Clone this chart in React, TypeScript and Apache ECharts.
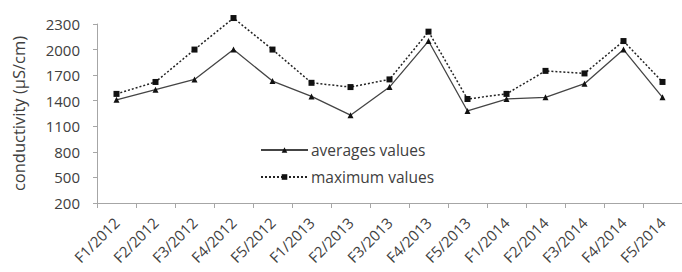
import React, { useEffect, useRef } from "react";
import * as echarts from "echarts";

const categories = [
  "F1/2012", "F2/2012", "F3/2012", "F4/2012", "F5/2012",
  "F1/2013", "F2/2013", "F3/2013", "F4/2013", "F5/2013",
  "F1/2014", "F2/2014", "F3/2014", "F4/2014", "F5/2014",
];
const averageValues = [1410, 1530, 1650, 2000, 1630, 1450, 1230, 1560, 2100, 1280, 1420, 1440, 1600, 2000, 1440];
const maximumValues = [1480, 1620, 2000, 2370, 2000, 1610, 1560, 1650, 2210, 1420, 1480, 1750, 1720, 2100, 1620];
const yMin = 200;
const yMax = 2300;
const yStep = 300;

const FONT = "Open Sans";
const TEXT = "#404040";
const AXIS = "#a6a6a6";

export default function App() {
  const ref = useRef<HTMLDivElement>(null);
  useEffect(() => {
    if (!ref.current) return;
    const chart = echarts.init(ref.current, undefined, { renderer: "svg" });
    chart.setOption({
      animation: false,
      backgroundColor: "#ffffff",
      grid: { left: 97, right: 0, top: 24, bottom: 69, containLabel: false },
      legend: {
        orient: "vertical",
        left: 255,
        top: 137,
        itemWidth: 47,
        itemHeight: 7,
        itemGap: 11,
        itemStyle: {},
        textStyle: { fontFamily: FONT, fontSize: 15.5, color: TEXT, padding: [0, 0, 0, -2] },
        data: ["averages values", "maximum values"],
      },
      xAxis: {
        type: "category",
        data: categories,
        boundaryGap: true,
        axisLine: { lineStyle: { color: AXIS, width: 1 } },
        axisTick: { show: true, alignWithLabel: false, length: 5, lineStyle: { color: AXIS } },
        axisLabel: {
          interval: 0,
          rotate: 45,
          margin: 17,
          fontFamily: FONT,
          fontSize: 15,
          color: TEXT,
        },
      },
      yAxis: {
        type: "value",
        min: yMin,
        max: yMax,
        interval: yStep,
        name: "conductivity (µS/cm)",
        nameLocation: "middle",
        nameGap: 70,
        nameTextStyle: { fontFamily: FONT, fontSize: 16.5, color: TEXT },
        axisLine: { show: true, lineStyle: { color: AXIS, width: 1 } },
        axisTick: { show: true, inside: false, length: 4, lineStyle: { color: AXIS } },
        splitLine: { show: false },
        axisLabel: {
          fontFamily: FONT,
          fontSize: 15,
          color: TEXT,
          margin: 17,
          formatter: (v: number) => String(v),
        },
      },
      series: [
        {
          name: "averages values",
          type: "line",
          data: averageValues,
          symbol: "triangle",
          symbolSize: 6,
          clip: false,
          lineStyle: { color: "#444444", width: 1.3, type: "solid" },
          itemStyle: { color: "#111111" },
        },
        {
          name: "maximum values",
          type: "line",
          data: maximumValues,
          symbol: "rect",
          symbolSize: 6,
          clip: false,
          lineStyle: { color: "#222222", width: 1.5, type: [2, 2] },
          itemStyle: { color: "#111111" },
        },
      ],
    });
    return () => chart.dispose();
  }, []);
  return (
    <div
      ref={ref}
      style={{ width: 682, height: 272, position: "fixed", left: 0, top: 0 }}
    />
  );
}
